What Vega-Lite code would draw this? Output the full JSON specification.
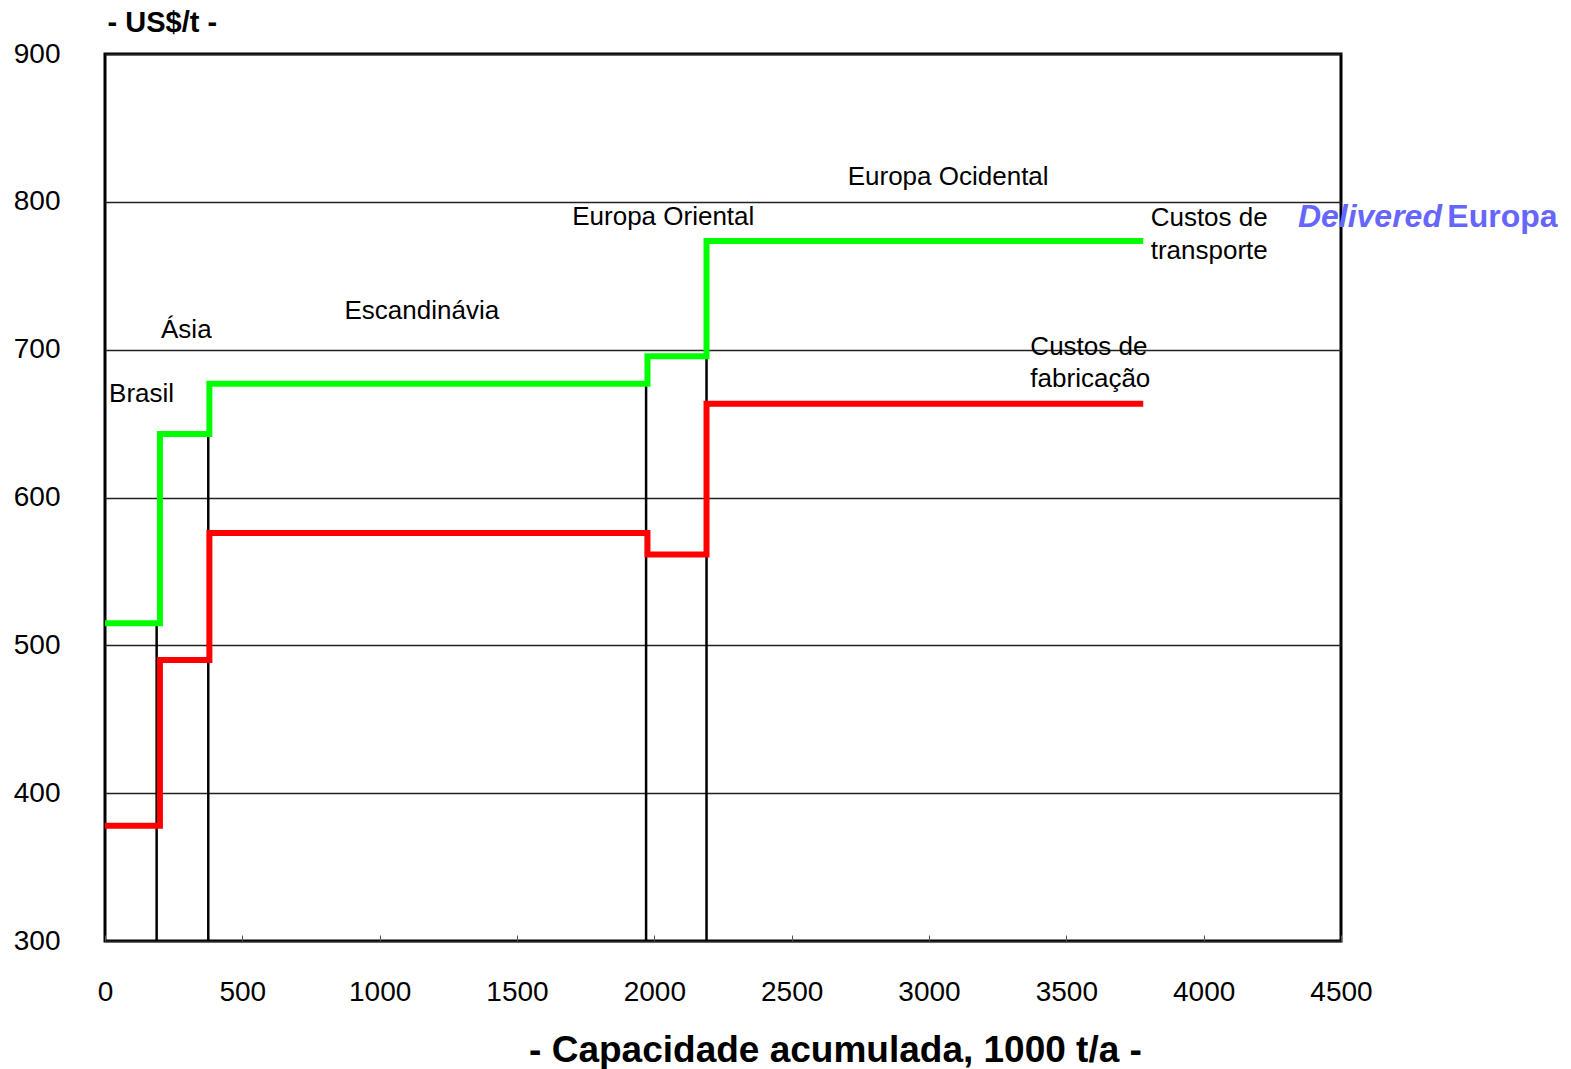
{
  "$schema": "https://vega.github.io/schema/vega-lite/v6.json",
  "width": 1236,
  "height": 887,
  "autosize": {"type": "none"},
  "padding": {"left": 105, "top": 54, "right": 230, "bottom": 128},
  "background": "white",
  "config": {
    "font": "Liberation Sans",
    "view": {"stroke": "black", "strokeWidth": 3},
    "axis": {"labelColor": "black", "titleColor": "black", "labelFont": "Liberation Sans", "titleFont": "Liberation Sans"}
  },
  "datasets": {
    "dividers": [
      {"x": 188, "y0": 300, "y1": 515},
      {"x": 376, "y0": 300, "y1": 643},
      {"x": 1970, "y0": 300, "y1": 677},
      {"x": 2190, "y0": 300, "y1": 695.5}
    ],
    "costs": [
      {"series": "transporte", "x": 0, "y": 515},
      {"series": "transporte", "x": 200, "y": 643},
      {"series": "transporte", "x": 380, "y": 677},
      {"series": "transporte", "x": 1975, "y": 695.5},
      {"series": "transporte", "x": 2190, "y": 773.5},
      {"series": "transporte", "x": 3780, "y": 773.5},
      {"series": "fabricação", "x": 0, "y": 378},
      {"series": "fabricação", "x": 200, "y": 490},
      {"series": "fabricação", "x": 380, "y": 576},
      {"series": "fabricação", "x": 1975, "y": 561.5},
      {"series": "fabricação", "x": 2190, "y": 663.5},
      {"series": "fabricação", "x": 3780, "y": 663.5}
    ],
    "labels": [
      {"label": "Brasil", "x": 15, "y": 670},
      {"label": "Ásia", "x": 204, "y": 713},
      {"label": "Escandinávia", "x": 872, "y": 726},
      {"label": "Europa Oriental", "x": 1701, "y": 789.5},
      {"label": "Europa Ocidental", "x": 2704, "y": 816.5},
      {"label": "Custos de", "x": 3807, "y": 789},
      {"label": "transporte", "x": 3807, "y": 767},
      {"label": "Custos de", "x": 3369, "y": 701.5},
      {"label": "fabricação", "x": 3369, "y": 680}
    ],
    "delivered": [{"label": "Delivered", "x": 4343, "y": 789.6}],
    "europa": [{"label": "Europa", "x": 4887, "y": 789.6}]
  },
  "layer": [
    {
      "data": {"name": "dividers"},
      "mark": {"type": "rule", "color": "black", "strokeWidth": 2.5},
      "encoding": {
        "x": {
          "field": "x", "type": "quantitative",
          "scale": {"domain": [0, 4500], "nice": false, "zero": false},
          "axis": {
            "values": [0, 500, 1000, 1500, 2000, 2500, 3000, 3500, 4000, 4500],
            "format": "d", "labelFlush": false, "labelOverlap": false,
            "grid": false, "domain": false,
            "ticks": true, "tickSize": -6, "tickColor": "#555555", "tickWidth": 1,
            "labelFontSize": 28, "labelPadding": 57, "labelBaseline": "middle",
            "title": "- Capacidade acumulada, 1000 t/a -",
            "titleFontSize": 37, "titleFontWeight": "bold",
            "titleX": 730, "titleY": 109, "titleAlign": "center", "titleBaseline": "middle"
          }
        },
        "y": {
          "field": "y0", "type": "quantitative",
          "scale": {"domain": [300, 900], "nice": false, "zero": false},
          "axis": {
            "values": [300, 400, 500, 600, 700, 800, 900],
            "grid": true, "gridColor": "#222222", "gridWidth": 1.5, "gridOpacity": 1,
            "domain": false, "ticks": false, "labelFlush": false, "labelOverlap": false,
            "labelFontSize": 28, "labelPadding": 45,
            "title": "- US$/t -", "titleAngle": 0, "titleX": 2, "titleY": -32,
            "titleAlign": "left", "titleBaseline": "middle",
            "titleFontSize": 29, "titleFontWeight": "bold"
          }
        },
        "y2": {"field": "y1"}
      }
    },
    {
      "data": {"name": "costs"},
      "mark": {"type": "line", "interpolate": "step-after", "strokeWidth": 6},
      "encoding": {
        "x": {"field": "x", "type": "quantitative"},
        "y": {"field": "y", "type": "quantitative"},
        "color": {
          "field": "series", "type": "nominal",
          "scale": {"domain": ["transporte", "fabricação"], "range": ["#00ff00", "#ff0000"]},
          "legend": null
        }
      }
    },
    {
      "data": {"name": "labels"},
      "mark": {"type": "text", "align": "left", "baseline": "middle", "fontSize": 26, "color": "black"},
      "encoding": {
        "x": {"field": "x", "type": "quantitative"},
        "y": {"field": "y", "type": "quantitative"},
        "text": {"field": "label"}
      }
    },
    {
      "data": {"name": "delivered"},
      "mark": {"type": "text", "align": "left", "baseline": "middle", "fontSize": 32, "fontWeight": "bold", "fontStyle": "italic", "color": "#6666ff"},
      "encoding": {
        "x": {"field": "x", "type": "quantitative"},
        "y": {"field": "y", "type": "quantitative"},
        "text": {"field": "label"}
      }
    },
    {
      "data": {"name": "europa"},
      "mark": {"type": "text", "align": "left", "baseline": "middle", "fontSize": 32, "fontWeight": "bold", "color": "#6666ff"},
      "encoding": {
        "x": {"field": "x", "type": "quantitative"},
        "y": {"field": "y", "type": "quantitative"},
        "text": {"field": "label"}
      }
    }
  ]
}
